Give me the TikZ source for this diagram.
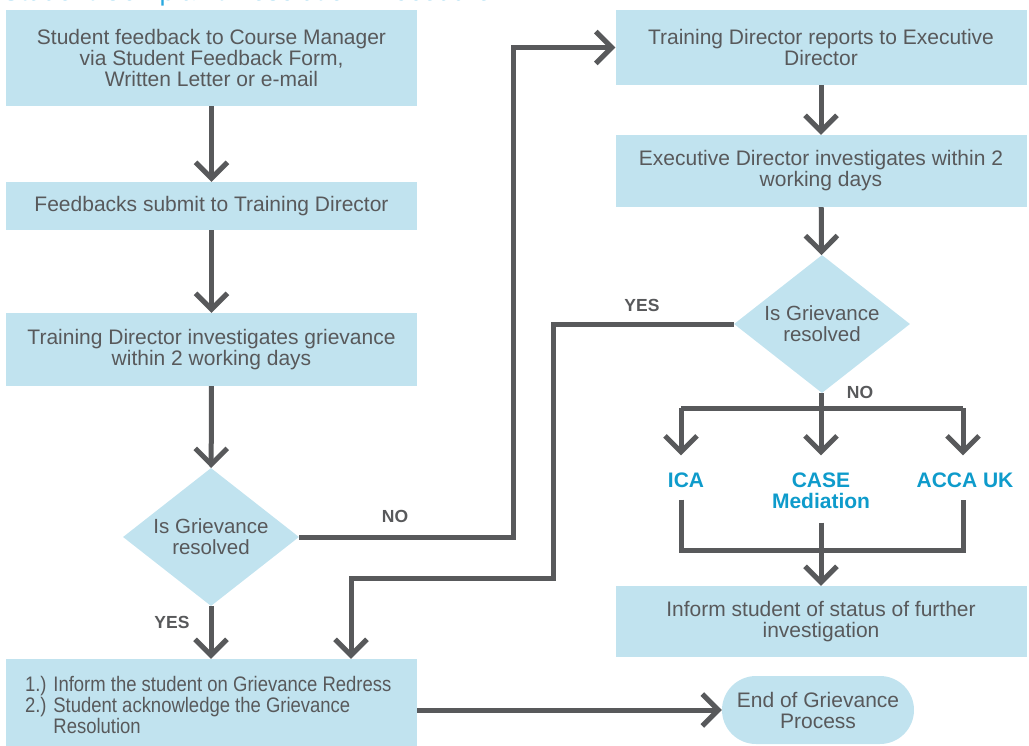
\documentclass[tikz,border=0pt]{standalone}
\usepackage{fontspec}
\setmainfont{Liberation Sans}
\newfontfamily\narrowfont[FakeStretch=0.88]{Liberation Sans}
\usetikzlibrary{arrows.meta,shapes.geometric}
\definecolor{boxblue}{HTML}{C1E3EF}
\definecolor{ink}{HTML}{58595B}
\definecolor{labblue}{HTML}{0E9BCB}
\definecolor{titleblue}{HTML}{29A8DF}
\begin{document}
\begin{tikzpicture}[x=1pt,y=-1pt,
  box/.style={rectangle, fill=boxblue, draw=none, minimum width=411pt, inner sep=0pt,
    align=center, text=ink, font=\fontsize{21}{21}\selectfont},
  dec/.style={diamond, fill=boxblue, draw=none, inner sep=0pt, minimum width=176pt,
    minimum height=138pt, aspect=1.275, align=center, text=ink, font=\fontsize{20.5}{21}\selectfont},
  endn/.style={rectangle, rounded corners=34pt, fill=boxblue, draw=none, minimum width=192pt,
    minimum height=68pt, inner sep=0pt, align=center, text=ink, font=\fontsize{21}{21}\selectfont},
  conn/.style={draw=ink, line width=5pt},
  arr/.style={conn, -{Straight Barb[length=16pt,width=32pt]}},
  yn/.style={text=ink, font=\bfseries\fontsize{17.5}{17.5}\selectfont, inner sep=0pt},
  org/.style={text=labblue, font=\bfseries\fontsize{21}{21}\selectfont, align=center, inner sep=0pt}
]
\useasboundingbox (0,0) rectangle (1029,745);

% partly visible title
\node[anchor=base west, text=titleblue, font=\fontsize{27}{27}\selectfont, inner sep=0pt]
  (title) at (2,0.2) {Student Complaint Resolution Procedure};

% left column
\node[box, minimum height=96pt] (b1) at (211.5,58)
  {Student feedback to Course Manager\\via Student Feedback Form,\\Written Letter or e-mail};
\node[box, minimum height=48pt] (b2) at (211.5,206) {Feedbacks submit to Training Director};
\node[box, minimum height=73pt] (b3) at (211.5,349.5)
  {Training Director investigates grievance\\within 2 working days};
\node[dec] (d1) at (211,537) {Is Grievance\\resolved};
\node[box, minimum height=96pt, text width=373pt, align=flush left, font=\narrowfont\fontsize{21}{21}\selectfont]
  (bb) at (211.5,707)
  {\mbox{1.) Inform the student on Grievance Redress}\\\mbox{2.) Student acknowledge the Grievance}\\\phantom{2.) }Resolution};
\node[endn] (end) at (818,710) {End of Grievance\\Process};

% right column
\node[box, minimum height=75pt] (r1) at (821,47.5) {Training Director reports to Executive\\Director};
\node[box, minimum height=72pt] (r2) at (821,171) {Executive Director investigates within 2\\working days};
\node[dec] (d2) at (822,324) {Is Grievance\\resolved};
\node[org] (ica) at (686,480) {ICA};
\node[org] (cm) at (821,490.5) {CASE\\Mediation};
\node[org] (acca) at (965,480) {ACCA UK};
\node[box, minimum height=71pt] (r3) at (821,621.5) {Inform student of status of further\\investigation};

% labels
\node[yn] (no1) at (395,516) {NO};
\node[yn] (yes1) at (172,622) {YES};
\node[yn] (yes2) at (642,305) {YES};
\node[yn] (no2) at (860,392) {NO};

% helper coordinates
\coordinate (jn) at (513,537);
\coordinate (jy) at (553,578);
\coordinate (xy) at (351,0);
\coordinate (sp) at (821,408);
\coordinate (sL) at (681,408);
\coordinate (sR) at (963,408);
\coordinate (mR) at (963,550);

% connectors
\draw[arr] (b1) -- (b2);
\draw[arr] (b2) -- (b3);
\draw[arr] (b3) -- (d1);
\draw[arr] (d1.south) -- (d1.south |- bb.north);
\draw[arr] (d1.east) -- (jn) |- (r1.west);
\draw[arr] (r1) -- (r2);
\draw[arr] (r2) -- (d2);
\draw[arr] (d2.west) -| (jy) -| (xy |- bb.north);
\draw[arr, shorten >=17pt] (sp |- d2.south) -- (sp |- cm.north);
\draw[conn] (sL) -- (sR);
\draw[arr, shorten >=17pt] (sL) -- (sL |- ica.north);
\draw[arr, shorten >=17pt] (sR) -- (sR |- acca.north);
\draw[conn, shorten <=12pt, shorten >=12pt] (sL |- ica.south) |- (mR) -- (sR |- acca.south);
\draw[arr, shorten <=14pt] (cm.south) -- (r3.north);
\draw[arr] (bb.east |- end.west) -- (end.west);
\end{tikzpicture}
\end{document}
